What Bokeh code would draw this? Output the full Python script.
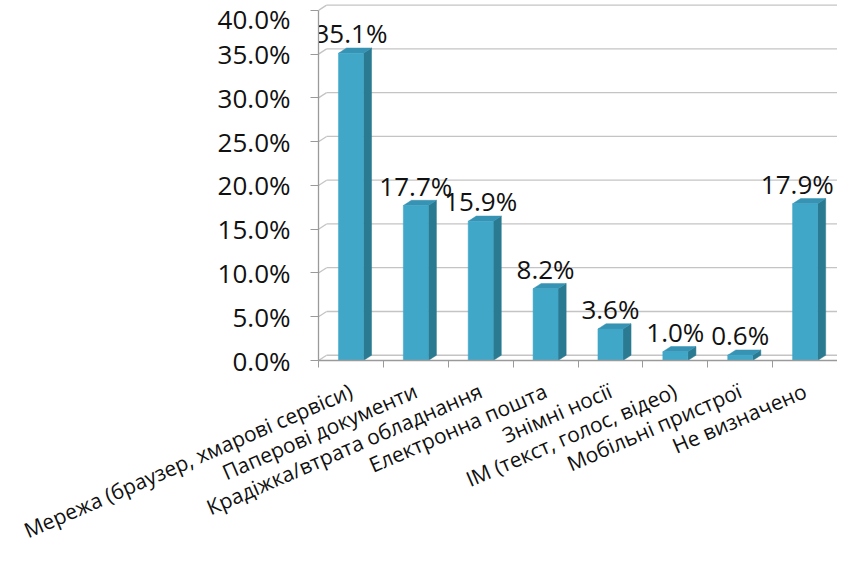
from bokeh.plotting import figure
from bokeh.models import Range1d, FixedTicker
from bokeh.core.properties import value
from bokeh.embed import file_html
from bokeh.resources import INLINE

categories = [
    "Мережа (браузер, хмарові сервіси)",
    "Паперові документи",
    "Крадіжка/втрата обладнання",
    "Електронна пошта",
    "Знімні носії",
    "IM (текст, голос, відео)",
    "Мобільні пристрої",
    "Не визначено",
]
shares = [35.1, 17.7, 15.9, 8.2, 3.6, 1.0, 0.6, 17.9]
value_labels = ["35.1%", "17.7%", "15.9%", "8.2%", "3.6%", "1.0%", "0.6%", "17.9%"]
y_ticks = [0, 5, 10, 15, 20, 25, 30, 35, 40]
y_tick_labels = ["0.0%", "5.0%", "10.0%", "15.0%", "20.0%", "25.0%", "30.0%", "35.0%", "40.0%"]

FONT = "Open Sans"
FRONT = "#40a7c8"
SIDE = "#2a7a91"
TOP = "#3693b3"
GRID = "#c4c4c4"
AXIS = "#9a9a9a"

n = len(categories)
centers = [i + 0.5 for i in range(n)]
bounds = [float(i) for i in range(n + 1)]
bw = 0.385   # front face width (category units)
dx = 0.125   # 3D depth offset x (category units)
dy = 0.6     # 3D depth offset y (percent units)

p = figure(width=837, height=559, output_backend="svg", toolbar_location=None,
           x_range=Range1d(0, n), y_range=Range1d(0, 40.9),
           min_border_left=318, min_border_right=0, min_border_top=2,
           min_border_bottom=120)
p.outline_line_color = None
p.background_fill_color = "white"
p.border_fill_color = "white"
p.xgrid.visible = False
p.ygrid.visible = False

# back wall gridlines and connectors from the front axis
p.segment(x0=[dx] * len(y_ticks), y0=[t + dy for t in y_ticks],
          x1=[n] * len(y_ticks), y1=[t + dy for t in y_ticks],
          line_color=GRID, line_width=1.3)
p.segment(x0=[0] * len(y_ticks), y0=y_ticks,
          x1=[dx] * len(y_ticks), y1=[t + dy for t in y_ticks],
          line_color=GRID, line_width=1.3)

# 3D bars
side_xs, side_ys, top_xs, top_ys = [], [], [], []
for c, v in zip(centers, shares):
    r = c + bw / 2
    l = c - bw / 2
    side_xs.append([r, r + dx, r + dx, r])
    side_ys.append([0, dy, v + dy, v])
    top_xs.append([l, r, r + dx, l + dx])
    top_ys.append([v, v, v + dy, v + dy])
p.patches(side_xs, side_ys, fill_color=SIDE, line_color=SIDE, line_width=0.5)
p.patches(top_xs, top_ys, fill_color=TOP, line_color=TOP, line_width=0.5)
p.vbar(x=centers, top=shares, bottom=0, width=bw, fill_color=FRONT,
       line_color=FRONT, line_width=0.5)

# value labels (kept inside the plot area)
label_x = [min(c, n - 0.62) for c in centers]
p.text(x=label_x, y=shares, text=value_labels, text_font=value(FONT),
       text_font_size="26px", text_color="#111111", text_align="center",
       text_baseline="alphabetic", y_offset=-20)

# axes
xa = p.xaxis[0]
xa.ticker = FixedTicker(ticks=centers, minor_ticks=bounds)
xa.major_label_overrides = {c: lab for c, lab in zip(centers, categories)}
xa.major_label_orientation = 0.41
xa.major_label_text_font = FONT
xa.major_label_text_font_size = "21px"
xa.major_label_text_line_height = 0.9
xa.major_label_text_color = "#111111"
xa.major_label_standoff = 22
xa.major_tick_out = 0
xa.major_tick_in = 0
xa.minor_tick_out = 7
xa.minor_tick_in = 0
xa.minor_tick_line_color = AXIS
xa.axis_line_color = AXIS
xa.axis_line_width = 1.3

ya = p.yaxis[0]
ya.ticker = FixedTicker(ticks=y_ticks)
ya.major_label_overrides = {t: lab for t, lab in zip(y_ticks, y_tick_labels)}
ya.bounds = (0, 40)
ya.major_label_text_font = FONT
ya.major_label_text_font_size = "26px"
ya.major_label_text_color = "#111111"
ya.major_label_standoff = 20
ya.major_tick_out = 8
ya.major_tick_in = 0
ya.minor_tick_out = 0
ya.minor_tick_in = 0
ya.major_tick_line_color = AXIS
ya.axis_line_color = AXIS
ya.axis_line_width = 1.3

open("out.html", "w").write(file_html(p, INLINE))
